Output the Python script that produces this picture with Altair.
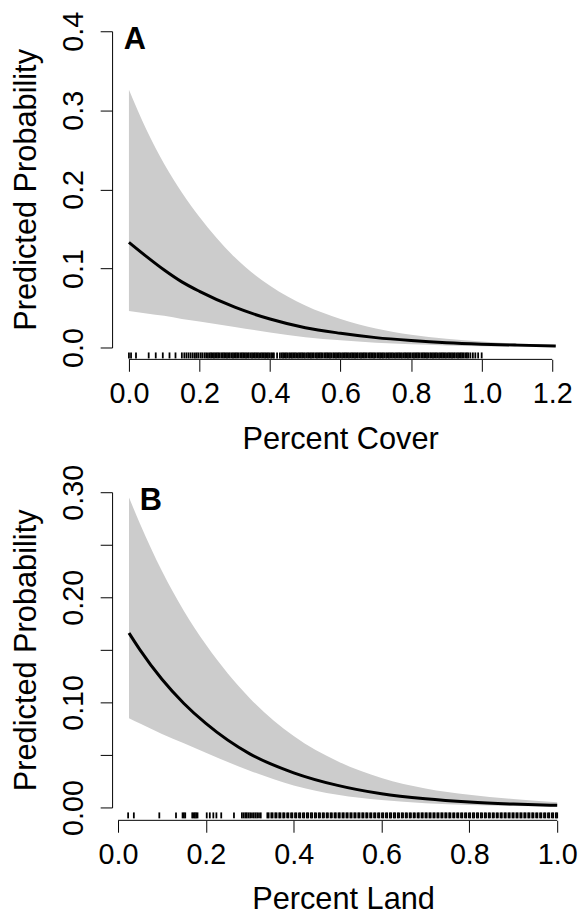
import altair as alt
import pandas as pd

FONT = "Liberation Sans"

# ---------------- Panel A : Percent Cover ----------------
cover_x = [0.0, 0.05, 0.1, 0.15, 0.2, 0.3, 0.4, 0.5, 0.6, 0.7, 0.8, 0.9, 1.0, 1.1, 1.21]
cover_fit = [0.133, 0.115, 0.098, 0.083, 0.071, 0.051, 0.036, 0.025, 0.018, 0.0125, 0.0088, 0.006, 0.0042, 0.003, 0.002]
cover_hi = [0.326, 0.275, 0.232, 0.196, 0.165, 0.114, 0.078, 0.053, 0.036, 0.024, 0.016, 0.011, 0.0075, 0.005, 0.0033]
cover_lo = [0.046, 0.043, 0.040, 0.036, 0.033, 0.026, 0.019, 0.013, 0.009, 0.006, 0.004, 0.0026, 0.0017, 0.0011, 0.0007]
cover_rug = [
    0.000, 0.006, 0.020, 0.056, 0.076, 0.096, 0.115, 0.132, 0.150, 0.157, 0.163, 0.169,
    0.175, 0.181, 0.187, 0.192, 0.197, 0.203, 0.208, 0.214, 0.219, 0.224, 0.229,
    0.233, 0.237, 0.241, 0.245, 0.249, 0.253, 0.257, 0.262, 0.266, 0.270, 0.274, 0.278,
    0.282, 0.286, 0.291, 0.295, 0.299, 0.303, 0.307, 0.311, 0.316, 0.320, 0.324, 0.328,
    0.332, 0.336, 0.340, 0.345, 0.349, 0.353, 0.357, 0.361, 0.365, 0.369, 0.374, 0.378,
    0.382, 0.386, 0.390, 0.394, 0.398, 0.403, 0.407, 0.411, 0.420, 0.428, 0.433, 0.437,
    0.441, 0.445, 0.449, 0.454, 0.458, 0.462, 0.466, 0.470, 0.474, 0.479, 0.483, 0.487,
    0.491, 0.495, 0.499, 0.504, 0.508, 0.512, 0.516, 0.520, 0.524, 0.529, 0.533, 0.537,
    0.541, 0.545, 0.549, 0.554, 0.558, 0.562, 0.566, 0.570, 0.574, 0.579, 0.583, 0.587,
    0.591, 0.595, 0.599, 0.604, 0.608, 0.612, 0.616, 0.620, 0.624, 0.629, 0.633, 0.637,
    0.641, 0.645, 0.649, 0.654, 0.658, 0.662, 0.666, 0.670, 0.674, 0.679, 0.683, 0.687,
    0.691, 0.695, 0.699, 0.704, 0.708, 0.712, 0.716, 0.720, 0.724, 0.729, 0.733, 0.737,
    0.741, 0.745, 0.749, 0.754, 0.758, 0.762, 0.766, 0.770, 0.774, 0.779, 0.783, 0.787,
    0.791, 0.795, 0.799, 0.804, 0.808, 0.812, 0.816, 0.820, 0.824, 0.829, 0.833, 0.837,
    0.841, 0.845, 0.849, 0.854, 0.858, 0.862, 0.866, 0.870, 0.874, 0.879, 0.883, 0.887,
    0.891, 0.895, 0.899, 0.904, 0.908, 0.912, 0.916, 0.920, 0.924, 0.929, 0.933, 0.937,
    0.941, 0.945, 0.949, 0.954, 0.958, 0.962, 0.968, 0.975, 0.982, 0.990, 1.000,
]
cover_xticks = [0.0, 0.2, 0.4, 0.6, 0.8, 1.0, 1.2]
cover_yticks = [0.0, 0.1, 0.2, 0.3, 0.4]

# ---------------- Panel B : Percent Land ----------------
land_x = [0.025, 0.05, 0.1, 0.15, 0.2, 0.3, 0.4, 0.5, 0.6, 0.7, 0.8, 0.9, 1.0]
land_fit = [0.166, 0.150, 0.122, 0.099, 0.080, 0.051, 0.033, 0.021, 0.013, 0.0082, 0.0051, 0.0032, 0.002]
land_hi = [0.295, 0.270, 0.225, 0.187, 0.155, 0.104, 0.068, 0.044, 0.028, 0.018, 0.012, 0.008, 0.005]
land_lo = [0.085, 0.080, 0.070, 0.061, 0.052, 0.035, 0.021, 0.012, 0.007, 0.004, 0.0023, 0.0013, 0.0007]
land_rug = [
    0.023, 0.036, 0.094, 0.132, 0.147, 0.150, 0.153, 0.169, 0.172, 0.175, 0.178, 0.181,
    0.202, 0.209, 0.217, 0.224, 0.235, 0.264,
    0.282, 0.286, 0.290, 0.293, 0.297, 0.301, 0.305, 0.309, 0.313, 0.317, 0.321, 0.325,
    0.340, 0.343, 0.349, 0.352, 0.358, 0.361, 0.367, 0.370, 0.376, 0.379, 0.385, 0.388,
    0.394, 0.397, 0.403, 0.406, 0.412, 0.415, 0.421, 0.424, 0.430, 0.433, 0.439, 0.442,
    0.448, 0.451, 0.457, 0.460, 0.466, 0.469, 0.475, 0.478, 0.484, 0.487, 0.493, 0.496,
    0.502, 0.505, 0.511, 0.514, 0.520, 0.523, 0.529, 0.532, 0.538, 0.541, 0.547, 0.550,
    0.556, 0.559, 0.565, 0.568, 0.574, 0.577, 0.583, 0.586, 0.592, 0.595, 0.601, 0.604,
    0.610, 0.613, 0.619, 0.622, 0.628, 0.631, 0.637, 0.640, 0.646, 0.649, 0.655, 0.658,
    0.664, 0.667, 0.673, 0.676, 0.682, 0.685, 0.691, 0.694, 0.700, 0.703, 0.709, 0.712,
    0.718, 0.721, 0.727, 0.730, 0.736, 0.739, 0.745, 0.748, 0.754, 0.757, 0.763, 0.766,
    0.772, 0.775, 0.781, 0.784, 0.790, 0.793, 0.799, 0.802, 0.808, 0.811, 0.817, 0.820,
    0.826, 0.829, 0.835, 0.838, 0.844, 0.847, 0.853, 0.856, 0.862, 0.865, 0.871, 0.874,
    0.880, 0.883, 0.889, 0.892, 0.898, 0.901, 0.907, 0.910, 0.916, 0.919, 0.925, 0.928,
    0.934, 0.937, 0.943, 0.946, 0.952, 0.955, 0.961, 0.964, 0.970, 0.973, 0.979, 0.982,
    0.988, 0.991, 0.997, 1.000,
]
land_xticks = [0.0, 0.2, 0.4, 0.6, 0.8, 1.0]
land_yticks = [0.0, 0.05, 0.10, 0.15, 0.20, 0.25, 0.30]


def panel(xs, fit, lo, hi, rug, xdom, xticks, ydom, yticks, ylabexpr,
          width, height, xtitle, letter, letter_x, letter_y, xgap, xtitle_x, xtitle_y):
    xsc = alt.Scale(domain=xdom, nice=False, zero=False)
    ysc = alt.Scale(domain=ydom, nice=False, zero=False)
    curve = pd.DataFrame({"x": xs, "fit": fit, "lo": lo, "hi": hi})

    xaxis = alt.Axis(
        values=xticks, format=".1f", title=xtitle, domain=False, grid=False,
        offset=xgap, tickSize=12, tickColor="black", tickWidth=1,
        labelFont=FONT, labelFontSize=29, labelColor="black", labelPadding=9,
        labelFlush=False, labelOverlap=False,
        titleFont=FONT, titleFontSize=31, titleFontWeight="normal", titleColor="black",
        titleX=xtitle_x, titleY=xtitle_y, titleBaseline="alphabetic", titleAlign="center",
    )
    yaxis = alt.Axis(
        values=yticks, labelExpr=ylabexpr, title="Predicted Probability", grid=False,
        offset=6, tickSize=12, tickColor="black", tickWidth=1,
        domainColor="black", domainWidth=1,
        labelFont=FONT, labelFontSize=29, labelColor="black", labelAngle=270,
        labelAlign="center", labelBaseline="alphabetic", labelPadding=18,
        labelFlush=False, labelOverlap=False,
        titleFont=FONT, titleFontSize=31, titleFontWeight="normal", titleColor="black",
        titleAngle=270, titleX=-77, titleY=height / 2, titleBaseline="alphabetic",
        titleAlign="center",
    )

    band = alt.Chart(curve).mark_area(color="#cccccc", interpolate="monotone").encode(
        x=alt.X("x:Q", scale=xsc, axis=xaxis),
        y=alt.Y("lo:Q", scale=ysc, axis=yaxis),
        y2="hi:Q",
    )
    line = alt.Chart(curve).mark_line(color="black", strokeWidth=3, interpolate="monotone").encode(
        x=alt.X("x:Q", scale=xsc, axis=xaxis),
        y=alt.Y("fit:Q", scale=ysc, axis=yaxis),
    )
    rugc = alt.Chart(pd.DataFrame({"r": rug})).mark_rule(color="black", strokeWidth=1.8).encode(
        x=alt.X("r:Q", scale=xsc, axis=xaxis),
        y=alt.value(height + 5),
        y2=alt.value(height + 11),
    )
    axline = alt.Chart(pd.DataFrame({"a": [xticks[0]], "b": [xticks[-1]]})).mark_rule(
        color="black", strokeWidth=1
    ).encode(
        x=alt.X("a:Q", scale=xsc, axis=xaxis),
        x2="b:Q",
        y=alt.value(height + xgap),
    )
    lab = alt.Chart(pd.DataFrame({"t": [letter]})).mark_text(
        font=FONT, fontSize=31, fontWeight="bold", color="black", align="center", baseline="alphabetic"
    ).encode(text="t:N", x=alt.value(letter_x), y=alt.value(letter_y))

    return alt.layer(band, line, rugc, axline, lab).properties(width=width, height=height)


pa = panel(cover_x, cover_fit, cover_lo, cover_hi, cover_rug,
           [-0.0309, 1.2], cover_xticks, [0.0, 0.4], cover_yticks,
           "format(datum.value, '.1f')",
           438, 319, "Percent Cover", "A", 17, 18, 12, 224, 90)
pb = panel(land_x, land_fit, land_lo, land_hi, land_rug,
           [0.0, 1.0], land_xticks, [0.0, 0.30], land_yticks,
           "round(datum.value*100) % 10 == 0 ? format(datum.value, '.2f') : ''",
           443, 318, "Percent Land", "B", 33, 18, 13, 227, 89)

chart = alt.vconcat(pa, pb, spacing=9).properties(
    padding={"left": 3, "top": -1.5, "right": 0, "bottom": -6}
).configure(background="white").configure_view(stroke=None)

chart.save("out.html", embed_options={"renderer": "svg", "actions": False})
